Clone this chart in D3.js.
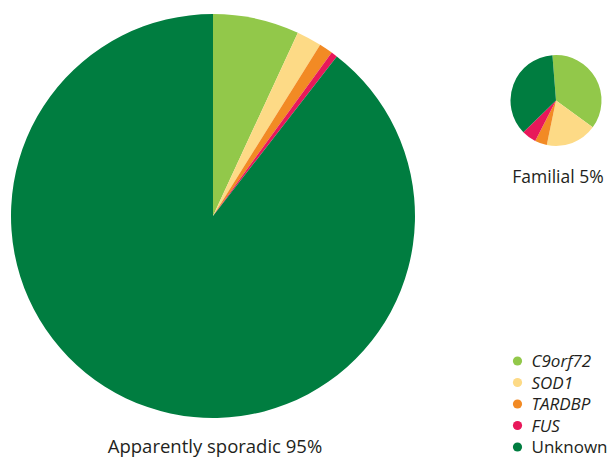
<!DOCTYPE html>
<html><head><meta charset="utf-8">
<script src="https://cdn.jsdelivr.net/npm/d3@7"></script>
<style>
html,body{margin:0;padding:0;background:#fff;}
text{font-family:"Open Sans",sans-serif;fill:#231f20;}
</style></head><body>
<svg id="chart" width="616" height="458"></svg>
<script>
const categories = ["C9orf72","SOD1","TARDBP","FUS","Unknown"];
const italicFlags = [true,true,true,true,false];
const colors = ["#92c84a","#fdda86","#f28a24","#e8185a","#007d40"];
const sporadicValues = [6.9, 2.0, 1.1, 0.5, 89.5];
const familialValues = [36.3, 18.2, 4.3, 5.2, 36.0];
const pieLabels = ["Apparently sporadic 95%", "Familial 5%"];

const svg = d3.select("#chart");
const color = d3.scaleOrdinal().domain(categories).range(colors);

function drawPie(values, cx, cy, r, startDeg, label, lx, ly, fs) {
  const data = categories.map((c,i)=>({cat:c, v:values[i]}));
  const start = startDeg*Math.PI/180;
  const pie = d3.pie().value(d=>d.v).sort(null).startAngle(start).endAngle(start+2*Math.PI);
  const arc = d3.arc().innerRadius(0).outerRadius(r);
  const g = svg.append("g").attr("transform",`translate(${cx},${cy})`);
  g.selectAll("path").data(pie(data)).join("path")
    .attr("d",arc).attr("fill",d=>color(d.data.cat));
  svg.append("text").attr("x",lx).attr("y",ly).attr("text-anchor","middle")
    .attr("font-size",fs).text(label);
}

drawPie(sporadicValues, 213, 216, 202, 0, pieLabels[0], 215, 453, 18.5);
drawPie(familialValues, 556, 100.5, 45.5, -4.5, pieLabels[1], 558, 183, 17.5);

const leg = svg.append("g");
const y = d3.scalePoint().domain(categories).range([361, 447]);
categories.forEach((c,i)=>{
  leg.append("circle").attr("cx",517.5).attr("cy",y(c)).attr("r",4.6).attr("fill",color(c));
  leg.append("text").attr("x",531.5).attr("y",y(c)).attr("dy","0.36em")
    .attr("font-size",17).attr("font-style",italicFlags[i]?"italic":"normal").text(c);
});
</script></body></html>
